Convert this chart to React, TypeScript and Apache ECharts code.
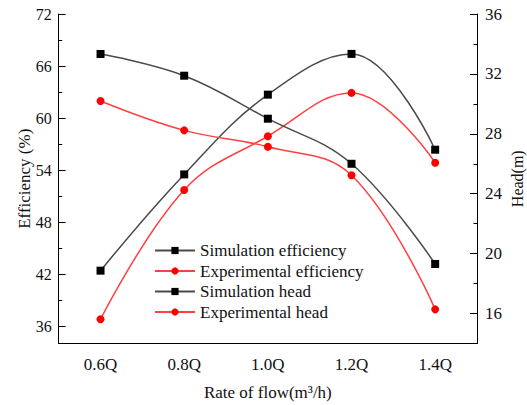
import React, { useEffect, useRef } from "react";
import * as echarts from "echarts";

const categories = ["0.6Q", "0.8Q", "1.0Q", "1.2Q", "1.4Q"];
const simEfficiency = [42.4, 53.5, 62.7, 67.4, 56.35];
const expEfficiency = [36.8, 51.7, 57.9, 62.9, 54.85];
const simHead = [33.33, 31.88, 29.01, 26.0, 19.31];
const expHead = [30.19, 28.23, 27.14, 25.23, 16.28];
const effTicks = [36, 42, 48, 54, 60, 66, 72];
const effMinorTicks = [39, 45, 51, 57, 63, 69];
const headTicks = [16, 20, 24, 28, 32, 36];
const headMinorTicks = [18, 22, 26, 30, 34];

const FONT = "Liberation Serif";

export default function App() {
  const ref = useRef<HTMLDivElement>(null);
  useEffect(() => {
    if (!ref.current) return;
    const chart = echarts.init(ref.current, null, { renderer: "svg" });
    const axisLineStyle = { color: "#000", width: 1 };
    const lineSeries = (
      name: string,
      data: number[],
      yAxisIndex: number,
      color: string,
      lineColor: string,
      symbol: string
    ) => ({
      name,
      type: "line",
      data,
      xAxisIndex: 0,
      yAxisIndex,
      smooth: 0.4,
      symbol,
      symbolSize: 8,
      itemStyle: { color },
      lineStyle: { color: lineColor, width: 1.5 },
      emphasis: { disabled: true },
    });
    chart.setOption({
      animation: false,
      grid: {
        left: 58.7,
        right: 50,
        top: 14,
        bottom: 61.5,
        outerBoundsMode: "none",
      },
      legend: {
        orient: "vertical",
        left: 154,
        top: 242,
        padding: 0,
        itemWidth: 40,
        itemHeight: 9,
        itemGap: 3.5,
        textStyle: { fontFamily: FONT, fontSize: 17, color: "#111" },
        data: [
          "Simulation efficiency",
          "Experimental efficiency",
          "Simulation head",
          "Experimental head",
        ],
      },
      xAxis: [
        {
          type: "category",
          data: categories,
          boundaryGap: true,
          position: "bottom",
          name: "Rate of flow(m³/h)",
          nameLocation: "middle",
          nameGap: 40,
          nameMoveOverlap: false,
          nameTextStyle: { fontFamily: FONT, fontSize: 17, color: "#111" },
          axisLine: { onZero: false, lineStyle: axisLineStyle },
          axisTick: { alignWithLabel: true, inside: false, length: 7, lineStyle: axisLineStyle },
          axisLabel: { fontFamily: FONT, fontSize: 17, color: "#111", margin: 12 },
          splitLine: { show: false },
        },
        {
          type: "category",
          data: categories,
          boundaryGap: true,
          position: "bottom",
          axisLine: { show: false, onZero: false },
          axisTick: { alignWithLabel: false, inside: false, length: 4, lineStyle: axisLineStyle },
          axisLabel: { show: false },
          splitLine: { show: false },
        },
      ],
      yAxis: [
        {
          type: "value",
          position: "left",
          min: 34,
          max: 72,
          name: "Efficiency (%)",
          nameLocation: "middle",
          nameGap: 26,
          nameMoveOverlap: false,
          nameTextStyle: { fontFamily: FONT, fontSize: 17, color: "#111" },
          axisLine: { show: true, onZero: false, lineStyle: axisLineStyle },
          axisTick: { show: true, inside: true, length: 7, customValues: effTicks, lineStyle: axisLineStyle },
          axisLabel: { fontFamily: FONT, fontSize: 16, color: "#111", margin: 7, customValues: effTicks },
          splitLine: { show: false },
        },
        {
          type: "value",
          position: "left",
          min: 34,
          max: 72,
          axisLine: { show: false },
          axisTick: { show: true, inside: true, length: 3.5, customValues: effMinorTicks, lineStyle: axisLineStyle },
          axisLabel: { show: false },
          splitLine: { show: false },
        },
        {
          type: "value",
          position: "right",
          min: 14,
          max: 36,
          name: "Head(m)",
          nameLocation: "middle",
          nameGap: 32,
          nameMoveOverlap: false,
          nameTextStyle: { fontFamily: FONT, fontSize: 16, color: "#111" },
          axisLine: { show: true, onZero: false, lineStyle: axisLineStyle },
          axisTick: { show: true, inside: true, length: 7, customValues: headTicks, lineStyle: axisLineStyle },
          axisLabel: { fontFamily: FONT, fontSize: 17, color: "#111", margin: 8, customValues: headTicks },
          splitLine: { show: false },
        },
        {
          type: "value",
          position: "right",
          min: 14,
          max: 36,
          axisLine: { show: false },
          axisTick: { show: true, inside: true, length: 3.5, customValues: headMinorTicks, lineStyle: axisLineStyle },
          axisLabel: { show: false },
          splitLine: { show: false },
        },
      ],
      series: [
        lineSeries("Simulation efficiency", simEfficiency, 0, "#000", "#4a4a4a", "rect"),
        lineSeries("Experimental efficiency", expEfficiency, 0, "#ff0000", "#ff4040", "circle"),
        lineSeries("Simulation head", simHead, 2, "#000", "#4a4a4a", "rect"),
        lineSeries("Experimental head", expHead, 2, "#ff0000", "#ff4040", "circle"),
      ],
    });
    return () => chart.dispose();
  }, []);
  return (
    <div
      ref={ref}
      style={{ position: "fixed", left: 0, top: 0, width: 527, height: 405, background: "#fff" }}
    />
  );
}
